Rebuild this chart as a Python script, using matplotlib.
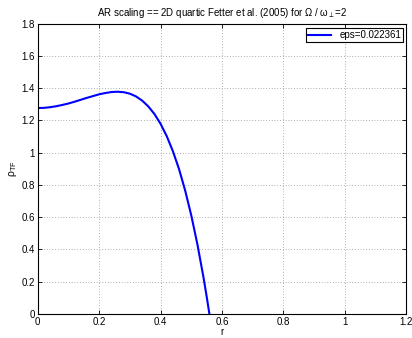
import matplotlib
matplotlib.use('Agg')
import matplotlib.pyplot as plt

# values
r = [0.0, 0.02, 0.04, 0.06, 0.08, 0.10, 0.12, 0.14, 0.16, 0.18, 0.20,
     0.22, 0.24, 0.26, 0.28, 0.30, 0.32, 0.34, 0.36, 0.38, 0.40, 0.42,
     0.44, 0.46, 0.48, 0.50, 0.52, 0.54, 0.55, 0.559]
rho_tf = [1.277, 1.278, 1.282, 1.288, 1.296, 1.305, 1.316, 1.328, 1.340,
          1.351, 1.362, 1.370, 1.376, 1.378, 1.375, 1.366, 1.349, 1.323,
          1.287, 1.240, 1.179, 1.103, 1.010, 0.899, 0.766, 0.611, 0.431,
          0.224, 0.109, 0.0]
legend_label = 'eps=0.022361'

plt.rcParams['font.family'] = ['Liberation Sans', 'DejaVu Sans']
plt.rcParams['mathtext.fontset'] = 'custom'
plt.rcParams['mathtext.rm'] = 'Liberation Sans'
plt.rcParams['mathtext.it'] = 'Liberation Sans:italic'

fig = plt.figure(figsize=(4.12, 3.38), dpi=100)
ax = fig.add_axes([0.0915, 0.071, 0.8947, 0.859])

ax.plot(r, rho_tf, color='#0000ff', lw=1.5, label=legend_label)

ax.set_xlim(0, 1.2)
ax.set_ylim(0, 1.8)
ax.set_xticks([0, 0.2, 0.4, 0.6, 0.8, 1, 1.2])
ax.set_xticklabels(['0', '0.2', '0.4', '0.6', '0.8', '1', '1.2'])
ax.set_yticks([0, 0.2, 0.4, 0.6, 0.8, 1, 1.2, 1.4, 1.6, 1.8])
ax.set_yticklabels(['0', '0.2', '0.4', '0.6', '0.8', '1', '1.2', '1.4', '1.6', '1.8'])
ax.tick_params(direction='in', top=True, right=True, length=3, width=0.6,
               labelsize=7, pad=2)
ax.grid(True, linestyle=(0, (1, 3)), color='#666666', linewidth=0.5)
for s in ax.spines.values():
    s.set_linewidth(0.8)

ax.set_title(r'AR scaling == 2D quartic Fetter et al. (2005) for $\mathrm{\Omega}$ / $\mathrm{\omega_{\perp}}$=2',
             fontsize=7, pad=5.5)
ax.set_xlabel('r', fontsize=7, labelpad=0)
ax.set_ylabel(r'$\mathrm{\rho_{TF}}$', fontsize=7.5, labelpad=2)

leg = ax.legend(loc='upper right', bbox_to_anchor=(0.991, 0.985),
                fontsize=7, fancybox=False, edgecolor='black', framealpha=1,
                borderaxespad=0, handlelength=2.4, borderpad=0.2)
leg.get_frame().set_linewidth(0.8)

fig.savefig('out.png', dpi=100)
